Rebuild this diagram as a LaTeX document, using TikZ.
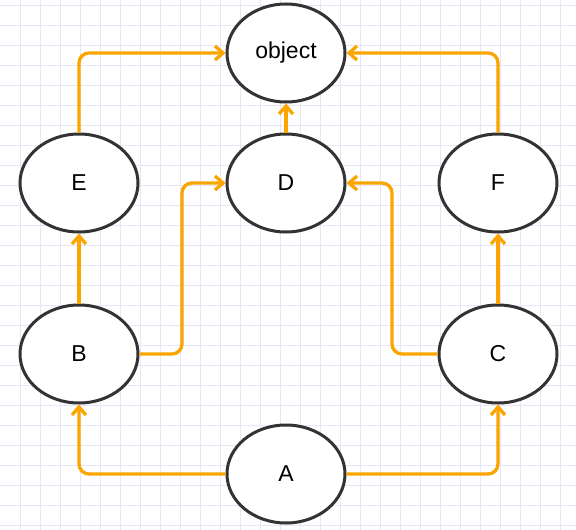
\documentclass[tikz,border=0pt]{standalone}
\usepackage{fontspec}
\setmainfont{Liberation Sans}
\usetikzlibrary{arrows.meta,shapes.geometric}
\definecolor{edgeor}{RGB}{250,165,0}
\definecolor{nodegray}{RGB}{51,51,51}
\definecolor{gridc}{RGB}{230,230,248}
\begin{document}
\begin{tikzpicture}[x=1pt,y=-1pt,
  cls/.style={ellipse,draw=nodegray,line width=3pt,fill=white,minimum width=118pt,minimum height=98pt,inner sep=0pt,font=\fontsize{23}{27}\selectfont},
  inh/.style={draw=edgeor,line width=3.3pt,rounded corners=10pt,-{Straight Barb[length=8pt,width=14pt,line width=3.3pt]}}]
\useasboundingbox (0,0) rectangle (576,530);
\fill[white] (0,0) rectangle (576,530);
\foreach \i in {1,...,28} {\draw[gridc,line width=0.9pt] (20*\i,0) -- (20*\i,530);}
\foreach \j in {0,...,26} {\draw[gridc,line width=0.9pt] (0,5+20*\j) -- (576,5+20*\j);}
\node[cls] (obj) at (286,53) {object};
\node[cls] (D) at (286,183) {D};
\node[cls] (E) at (79,183) {E};
\node[cls] (F) at (498,183) {F};
\node[cls] (B) at (79,354) {B};
\node[cls] (C) at (498,354) {C};
\node[cls] (A) at (286,474) {A};
\draw[inh] (A.west) -| (B.south);
\draw[inh] (A.east) -| (C.south);
\draw[inh] (B.north) -- (E.south);
\draw[inh] (C.north) -- (F.south);
\draw[inh] (B.east) -- (182,354) -- (182,183) -- (D.west);
\draw[inh] (C.west) -- (392,354) -- (392,183) -- (D.east);
\draw[inh] (D.north) -- (obj.south);
\draw[inh] (E.north) |- (obj.west);
\draw[inh] (F.north) |- (obj.east);
\end{tikzpicture}
\end{document}
